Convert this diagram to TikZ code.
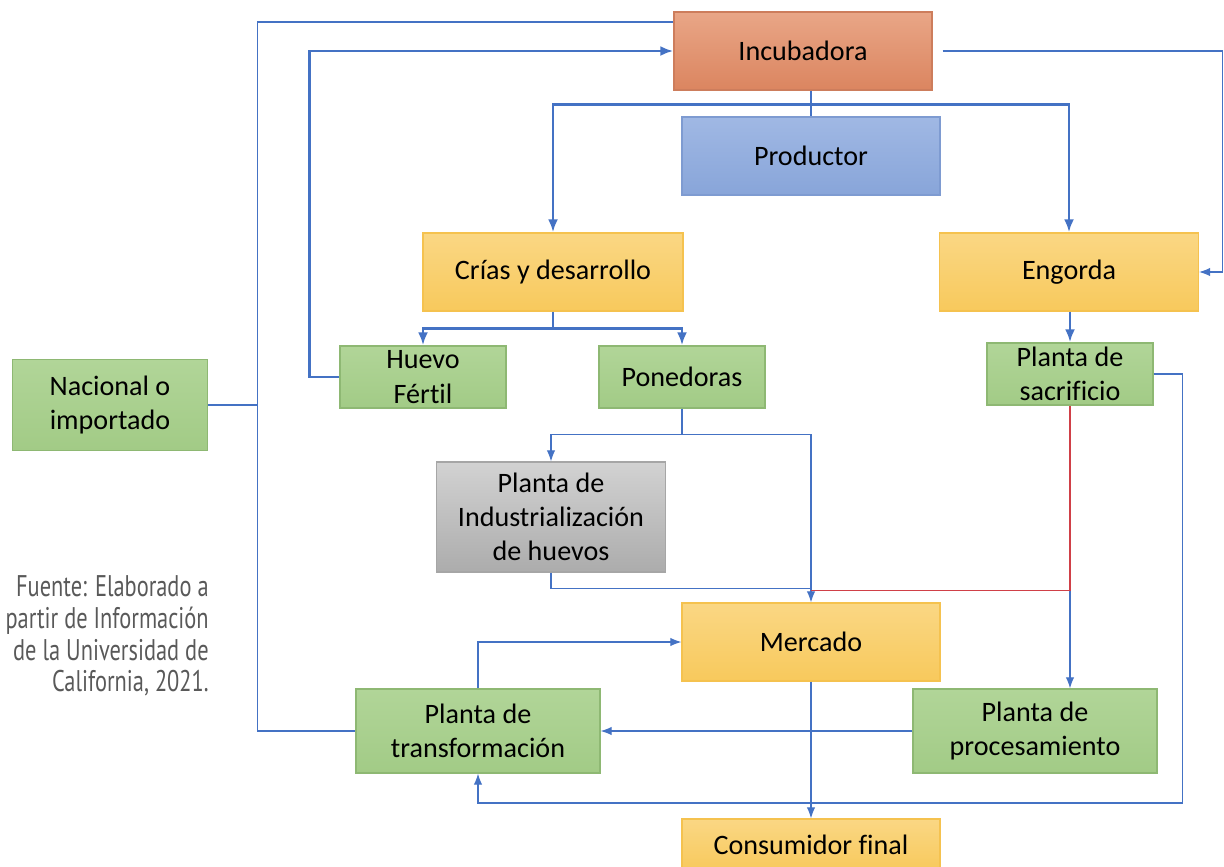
\documentclass[tikz,border=0pt]{standalone}
\usepackage{fontspec}
\setmainfont{Carlito}[Ligatures=NoCommon]
\newfontfamily\notefont[FakeStretch=0.75]{PT Sans}
\usetikzlibrary{arrows.meta, calc}

\definecolor{linkblue}{HTML}{4472C4}
\definecolor{linkred}{HTML}{D04048}
\definecolor{noteGray}{HTML}{595959}

\begin{document}
\begin{tikzpicture}[x=0.02cm, y=-0.02cm,
  box/.style = {draw, line width=0.8pt, inner sep=0pt, align=center, font=\fontsize{16}{19.5}\selectfont},
  incbox/.style = {box, draw={rgb,255:red,205;green,125;blue,92}, top color={rgb,255:red,233;green,166;blue,135}, bottom color={rgb,255:red,219;green,133;blue,96}},
  probox/.style = {box, draw={rgb,255:red,126;green,155;blue,209}, top color={rgb,255:red,160;green,184;blue,228}, bottom color={rgb,255:red,136;green,165;blue,217}},
  yelbox/.style = {box, draw={rgb,255:red,245;green,194;blue,79}, top color={rgb,255:red,250;green,215;blue,132}, bottom color={rgb,255:red,248;green,201;blue,92}},
  grnbox/.style = {box, draw={rgb,255:red,142;green,184;blue,115}, top color={rgb,255:red,177;green,213;blue,152}, bottom color={rgb,255:red,162;green,203;blue,134}},
  grybox/.style = {box, draw={rgb,255:red,166;green,166;blue,166}, top color={rgb,255:red,210;green,210;blue,210}, bottom color={rgb,255:red,172;green,172;blue,172}},
  thickline/.style = {draw=linkblue, line width=1.6pt},
  thickarrow/.style = {thickline, -{Latex[length=2.6mm, width=2mm]}},
  thinline/.style = {draw=linkblue, line width=0.6pt},
  thinarrow/.style = {thinline, -{Latex[length=2.2mm, width=1.7mm]}},
  redline/.style = {draw=linkred, line width=0.7pt},
  captext/.style = {align=right, inner sep=0pt, text=noteGray, font=\notefont\fontsize{17}{18}\selectfont}
]
  \useasboundingbox (0,0) rectangle (1224,866);

  % Nodes
  \node[incbox, minimum width=5.16cm, minimum height=1.56cm] (incubadora) at (803,51) {Incubadora};
  \node[probox, minimum width=5.16cm, minimum height=1.56cm] (productor) at (811,156) {Productor};
  \node[yelbox, minimum width=5.2cm, minimum height=1.56cm] (crias) at (553,272) {Crías y desarrollo};
  \node[yelbox, minimum width=5.18cm, minimum height=1.56cm] (engorda) at (1069,272) {Engorda};
  \node[grnbox, minimum width=3.32cm, minimum height=1.24cm] (huevo) at (423,377) {Huevo\\Fértil};
  \node[grnbox, minimum width=3.32cm, minimum height=1.24cm] (ponedoras) at (682,377) {Ponedoras};
  \node[grnbox, minimum width=3.32cm, minimum height=1.24cm] (sacrificio) at (1070,374) {Planta de\\sacrificio};
  \node[grnbox, minimum width=3.9cm, minimum height=1.82cm] (nacional) at (110,405) {Nacional o\\importado};
  \node[grybox, minimum width=4.58cm, minimum height=2.2cm] (industria) at (551,517) {Planta de\\Industrialización\\de huevos};
  \node[yelbox, minimum width=5.16cm, minimum height=1.56cm] (mercado) at (811,642) {Mercado};
  \node[grnbox, minimum width=4.88cm, minimum height=1.68cm] (transformacion) at (478,731) {Planta de\\transformación};
  \node[grnbox, minimum width=4.88cm, minimum height=1.68cm] (procesamiento) at (1035,731) {Planta de\\procesamiento};
  \node[yelbox, minimum width=5.16cm, minimum height=1.04cm] (consumidor) at (811,845) {Consumidor final};
  \node[captext, anchor=east] (fuente) at (209,636) {Fuente: Elaborado a\\partir de Información\\de la Universidad de\\California, 2021.};

  % Nacional o importado
  \draw[thinline] (nacional.east) -- ++(49,0) coordinate (jn);
  \draw[thinline] ([yshift=0.58cm]incubadora.west) -| (jn) |- (transformacion.west);

  % Incubadora -> Crias / Engorda
  \draw[thickline] (productor.north |- incubadora.south) -- (productor.north);
  \draw[thickarrow] ($(productor.north)+(0,-12)$) -| (crias.north);
  \draw[thickarrow] ($(productor.north)+(0,-12)$) -| (engorda.north);
  \draw[thinarrow] ([xshift=0.2cm]incubadora.east) -- ++(280,0) |- (engorda.east);

  % Crias -> Huevo / Ponedoras, Huevo back to Incubadora
  \draw[thickline] (crias.south) -- ++(0,17) coordinate (cs);
  \draw[thickarrow] (cs) -| (huevo.north);
  \draw[thickarrow] (cs) -| (ponedoras.north);
  \draw[thickarrow] (huevo.west) -- ++(-30,0) |- (incubadora.west);
  \draw[thickarrow] (sacrificio.north |- engorda.south) -- (sacrificio.north);

  % Ponedoras -> Industria / Mercado
  \draw[thinline] (ponedoras.south) -- ++(0,26) coordinate (ps);
  \draw[thinarrow] (ps) -| (industria.north);
  \draw[thinarrow] (ps) -| (mercado.north);
  \draw[thinline] (industria.south) -- ++(0,16) coordinate (is) -- (is -| mercado.north);

  % Sacrificio
  \draw[redline] (sacrificio.south) -- ++(0,185) coordinate (rs) -- (rs -| mercado.north);
  \draw[thinarrow] (rs) -- (rs |- procesamiento.north);
  \draw[thinarrow] (sacrificio.east) -- ++(29,0) -- ++(0,429) -| (transformacion.south);

  % Mercado, plantas, consumidor
  \draw[thinarrow] (mercado.south) -- (consumidor.north);
  \draw[thinarrow] (procesamiento.west) -- (transformacion.east);
  \draw[thinarrow] (transformacion.north) |- (mercado.west);

\end{tikzpicture}
\end{document}
